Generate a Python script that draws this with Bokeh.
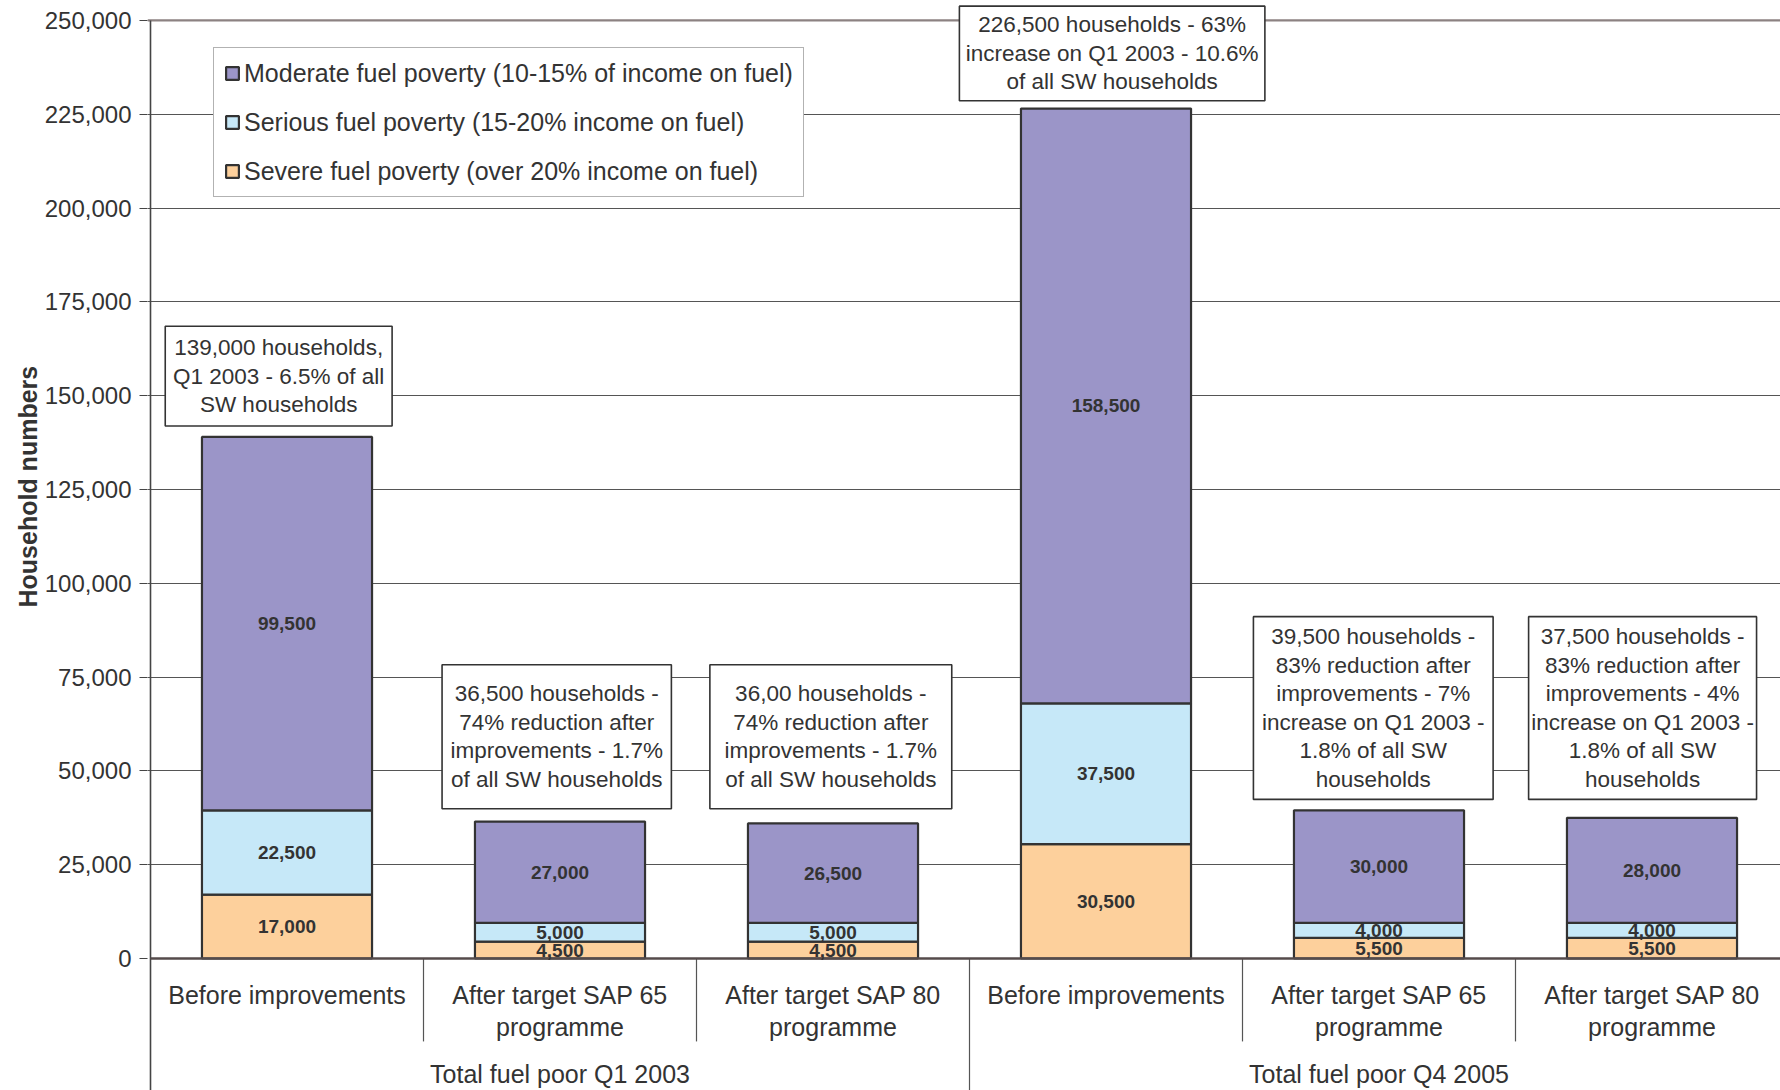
from bokeh.core.properties import value
from bokeh.embed import file_html
from bokeh.models import (ColumnDataSource, FixedTicker, Legend, LegendItem,
                          NumeralTickFormatter, Range1d, Title)
from bokeh.plotting import figure
from bokeh.resources import INLINE

# ---------------------------------------------------------------- data
categories = [
    "Before improvements",
    "After target SAP 65\nprogramme",
    "After target SAP 80\nprogramme",
    "Before improvements",
    "After target SAP 65\nprogramme",
    "After target SAP 80\nprogramme",
]
groups = ["Total fuel poor Q1 2003", "Total fuel poor Q4 2005"]

severe = [17000, 4500, 4500, 30500, 5500, 5500]
serious = [22500, 5000, 5000, 37500, 4000, 4000]
moderate = [99500, 27000, 26500, 158500, 30000, 28000]

series_names = [
    "Severe fuel poverty (over 20% income on fuel)",
    "Serious fuel poverty (15-20% income on fuel)",
    "Moderate fuel poverty (10-15% of income on fuel)",
]

notes = [
    "139,000 households,\nQ1 2003 - 6.5% of all\nSW households",
    "36,500 households -\n74% reduction after\nimprovements - 1.7%\nof all SW households",
    "36,00 households -\n74% reduction after\nimprovements - 1.7%\nof all SW households",
    "226,500 households - 63%\nincrease on Q1 2003 - 10.6%\nof all SW households",
    "39,500 households -\n83% reduction after\nimprovements - 7%\nincrease on Q1 2003 -\n1.8% of all SW\nhouseholds",
    "37,500 households -\n83% reduction after\nimprovements - 4%\nincrease on Q1 2003 -\n1.8% of all SW\nhouseholds",
]

y_ticks = list(range(0, 250001, 25000))

# ---------------------------------------------------------------- styling / layout
FONT = "Liberation Sans"
TEXT = "#333333"
COLORS = ["#FDD09C", "#C6E8F8", "#9B95C8"]  # severe, serious, moderate
OUTLINE = "#333333"

W, H = 1780, 1090
LEFT = 147
PX = 938.1 / 250000.0          # pixels per household
ZERO_PX = 958                  # canvas row of the zero line
Y_START = -(H - ZERO_PX) / PX
Y_END = ZERO_PX / PX
CAT_PX = 273.0                 # pixels per category slot
X_START = -(150 - LEFT) / CAT_PX
X_END = (W - 150) / CAT_PX

BAR_WIDTH = 0.623
NOTE_PITCH = 28.5 / PX         # line pitch inside the note boxes
CAT_PITCH = 31.8 / PX          # line pitch of the category labels
CAT_FIRST = -(994.3 - ZERO_PX) / PX
GROUP_Y = -(1073.8 - ZERO_PX) / PX

# annotation box placement (x in category slots, y in households)
note_left = [0.054, 1.068, 2.049, 2.963, 4.040, 5.048]
note_right = [0.885, 1.908, 2.935, 4.082, 4.918, 5.883]
note_top = [168500, 78300, 78300, 253800, 91100, 91100]
note_bottom = [141900, 39900, 39900, 228600, 42400, 42400]

# ---------------------------------------------------------------- figure
p = figure(
    width=W, height=H,
    x_range=Range1d(X_START, X_END), y_range=Range1d(Y_START, Y_END),
    x_axis_location=None,
    output_backend="svg", toolbar_location=None,
    min_border_left=LEFT, min_border_right=0,
    min_border_top=0, min_border_bottom=0,
)
p.outline_line_color = None
p.background_fill_color = "white"
p.border_fill_color = "white"
p.xgrid.visible = False

# y axis: ticks and labels only, the axis line is drawn by hand below
yax = p.yaxis[0]
yax.ticker = FixedTicker(ticks=y_ticks)
yax.formatter = NumeralTickFormatter(format="0,0")
yax.axis_line_color = None
yax.major_tick_line_color = "#444444"
yax.major_tick_line_width = 1.2
yax.major_tick_out = 8
yax.major_tick_in = 0
yax.minor_tick_line_color = None
yax.major_label_standoff = 8
yax.major_label_text_font = FONT
yax.major_label_text_font_size = "24px"
yax.major_label_text_color = TEXT

# axis title, placed alongside the 0 - 250,000 span
p.add_layout(Title(
    text="Household numbers", align="left", offset=483, standoff=0,
    text_font=FONT, text_font_size="25px", text_font_style="bold",
    text_color=TEXT,
), "left")

p.ygrid.ticker = FixedTicker(ticks=y_ticks[1:-1])
p.ygrid.grid_line_color = "#555555"
p.ygrid.grid_line_width = 1.1

n = len(categories)
xs = [i + 0.5 for i in range(n)]

# top rule at 250,000
p.segment(x0=[X_START], x1=[X_END], y0=[y_ticks[-1]], y1=[y_ticks[-1]],
          line_color="#8c8282", line_width=2.4)

# category separators under the baseline
sep_small = [1, 2, 4, 5]
p.segment(x0=sep_small, x1=sep_small, y0=[0] * 4, y1=[-22100] * 4,
          line_color="#555555", line_width=1.2)
p.segment(x0=[3], x1=[3], y0=[0], y1=[Y_START],
          line_color="#555555", line_width=1.2)
# vertical axis line
p.segment(x0=[0], x1=[0], y0=[Y_START], y1=[y_ticks[-1]],
          line_color="#444444", line_width=1.6)

# ---------------------------------------------------------------- stacked bars
src = ColumnDataSource(dict(x=xs, severe=severe, serious=serious, moderate=moderate))
bars = p.vbar_stack(
    ["severe", "serious", "moderate"], x="x", width=BAR_WIDTH, source=src,
    fill_color=COLORS, line_color=OUTLINE, line_width=2.2,
)

p.segment(x0=[0], x1=[X_END], y0=[0], y1=[0], line_color="#554b4b", line_width=2.4)

# segment value labels, centred inside each segment
lx, ly, lt = [], [], []
for i in range(n):
    base = 0
    for seg in (severe[i], serious[i], moderate[i]):
        lx.append(xs[i])
        ly.append(base + seg / 2)
        lt.append(f"{seg:,}")
        base += seg
p.text(x=lx, y=ly, text=lt, text_align="center", text_baseline="middle",
       text_font=value(FONT), text_font_size="19px", text_font_style="bold",
       text_color=TEXT)

# ---------------------------------------------------------------- annotation boxes
p.quad(left=note_left, right=note_right, top=note_top, bottom=note_bottom,
       fill_color="white", line_color="#333333", line_width=1.6)
nx, ny, nt = [], [], []
for k, note in enumerate(notes):
    lines = note.split("\n")
    cx = (note_left[k] + note_right[k]) / 2
    cy = (note_top[k] + note_bottom[k]) / 2
    m = len(lines)
    for j, line in enumerate(lines):
        nx.append(cx)
        ny.append(cy - (j - (m - 1) / 2) * NOTE_PITCH)
        nt.append(line)
p.text(x=nx, y=ny, text=nt, text_align="center", text_baseline="middle",
       text_font=value(FONT), text_font_size="22.5px", text_color=TEXT)

# ---------------------------------------------------------------- category labels
cx_, cy_, ct_ = [], [], []
for i, cat in enumerate(categories):
    for j, line in enumerate(cat.split("\n")):
        cx_.append(xs[i])
        cy_.append(CAT_FIRST - j * CAT_PITCH)
        ct_.append(line)
p.text(x=cx_, y=cy_, text=ct_, text_align="center", text_baseline="middle",
       text_font=value(FONT), text_font_size="25px", text_color=TEXT)
p.text(x=[1.5, 4.5], y=[GROUP_Y, GROUP_Y], text=groups, text_align="center",
       text_baseline="middle", text_font=value(FONT), text_font_size="25px",
       text_color=TEXT)

# ---------------------------------------------------------------- legend
items = [LegendItem(label=series_names[k], renderers=[bars[k]]) for k in (2, 1, 0)]
legend = Legend(
    items=items, location=(66, 893), orientation="vertical",
    label_text_font=FONT, label_text_font_size="25px", label_text_color=TEXT,
    glyph_width=16, glyph_height=16, label_height=30, label_standoff=4,
    spacing=19, padding=10, margin=0,
    border_line_color="#666666", border_line_width=1.3,
    background_fill_color="white", background_fill_alpha=1.0,
)
p.add_layout(legend)

open("out.html", "w").write(file_html(p, INLINE))
